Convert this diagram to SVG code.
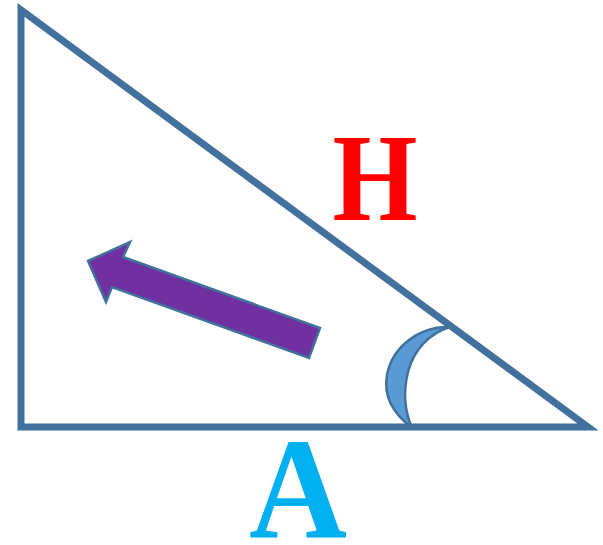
<svg xmlns="http://www.w3.org/2000/svg" width="603" height="545" viewBox="0 0 603 545">
<style>
.edge{fill:none;stroke:#41719C;stroke-width:7;stroke-linejoin:miter}
.lbl{font-family:"Liberation Serif","DejaVu Serif",serif;font-weight:bold;text-anchor:middle}
</style>
<rect width="603" height="545" fill="#fff"/>
<g id="triangle">
<polygon class="edge" points="21,10 21,427 588,427"/>
</g>
<g id="angle">
<path d="M450,327 C418,326 392,348 387,375 C383,397 395,415 412,428 C405,412 403,392 408,372 C414,349 430,333 450,327 Z" fill="#5B9BD5" stroke="#41719C" stroke-width="2.5" stroke-linejoin="round"/>
</g>
<g id="arrow">
<polygon points="88,261 130,242 123,257 320,328 309,358 112,287 106,302" fill="#7030A0" stroke="#41719C" stroke-width="2.5"/>
</g>
<g id="label-H">
<text class="lbl" x="375" y="220" font-size="124" fill="#FF0000" textLength="85" lengthAdjust="spacingAndGlyphs">H</text>
</g>
<g id="label-A">
<text class="lbl" x="298" y="538" font-size="144" fill="#00B0F0" textLength="98" lengthAdjust="spacingAndGlyphs">A</text>
</g>
</svg>
